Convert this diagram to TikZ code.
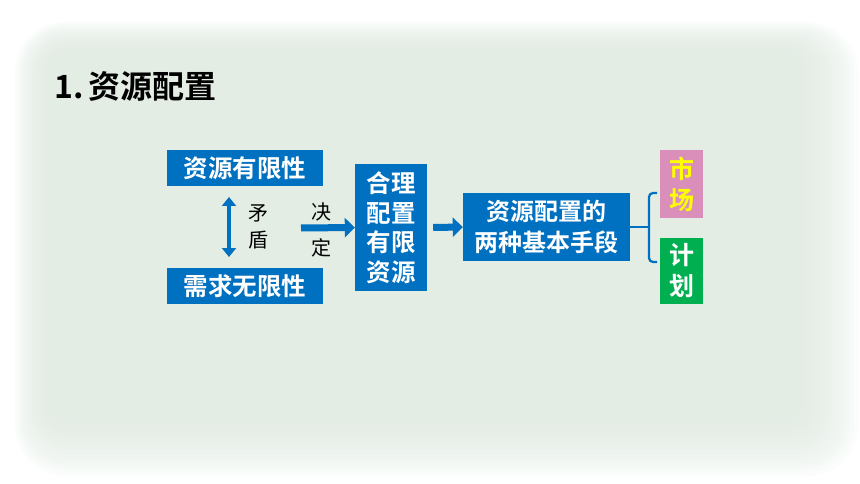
\documentclass[tikz,border=0pt]{standalone}
\usepackage{fontspec}
\newfontfamily\cjk{Noto Sans CJK SC}
\newfontfamily\cjkb{Noto Sans CJK SC Bold}
\usetikzlibrary{arrows.meta}
\definecolor{bgg}{HTML}{E3EDE4}
\definecolor{boxblue}{HTML}{0070C0}
\definecolor{mpink}{HTML}{D98FB9}
\definecolor{mgreen}{HTML}{00B050}
\definecolor{myellow}{HTML}{FFFF00}
\tikzset{
  bluebox/.style={fill=boxblue, text=white, font=\cjkb\fontsize{24.5}{27}\selectfont, inner sep=0pt, align=center},
  sidebox/.style={inner sep=0pt, align=center, font=\cjkb\fontsize{25}{31}\selectfont},
  smalltxt/.style={font=\cjk\fontsize{20}{22}\selectfont, text=black, inner sep=0pt},
  fatarrow/.style={draw=boxblue, line width=7pt, -{Triangle[length=10pt,width=19pt]}},
  dblarrow/.style={draw=boxblue, line width=4.5pt, {Triangle[length=9pt,width=14pt]}-{Triangle[length=9pt,width=14pt]}},
  bracel/.style={draw=boxblue, line width=2.2pt}
}
\begin{document}
\begin{tikzpicture}[x=1pt,y=-1pt]
\useasboundingbox (0,0) rectangle (860,484);
\fill[white] (0,0) rectangle (860,484);
% soft background
\foreach \i in {0,...,19}{
  \fill[bgg, opacity=0.11, rounded corners={50-2*\i}] (15+2.2*\i,22+1.9*\i) rectangle (858-3.8*\i,476-3.8*\i);
}
\node[anchor=west, font=\cjkb\fontsize{32}{36}\selectfont, text=black, inner sep=0pt] (title) at (54,87) {1.\,资源配置};

\node[bluebox, minimum width=156pt, minimum height=36pt] (a) at (245,168) {资源有限性};
\node[bluebox, minimum width=156pt, minimum height=36pt] (b) at (245,286) {需求无限性};
\coordinate (da) at (229,197);
\coordinate (db) at (229,257);
\draw[dblarrow] (da) -- (db);
\node[smalltxt] (m1) at (258,213) {矛};
\node[smalltxt] (m2) at (258,240) {盾};

\node[bluebox, minimum width=72pt, minimum height=127pt, font=\cjkb\fontsize{24.5}{29.5}\selectfont] (c) at (391,227.5) {合理\\配置\\有限\\资源};
\coordinate (ja) at (301,228);
\draw[fatarrow] (ja) -- (c.west);
\node[smalltxt] (j1) at (321,212) {决};
\node[smalltxt] (j2) at (321,248) {定};

\node[bluebox, minimum width=167pt, minimum height=68pt, font=\cjkb\fontsize{24}{31}\selectfont] (d) at (546.5,227) {资源配置的\\两种基本手段};
\draw[fatarrow] (c.east) ++(6,0) coordinate (ka) (ka) -- (d.west);

\node[sidebox, fill=mpink, text=myellow, minimum width=43pt, minimum height=68pt] (e) at (681.5,184) {市\\场};
\node[sidebox, fill=mgreen, text=white, minimum width=43pt, minimum height=66pt] (f) at (681.5,271) {计\\划};

\coordinate (bm) at (649,227);
\draw[bracel] (d.east) -- (bm);
\draw[bracel, rounded corners=4pt] (657,193) -- (649,193) -- (649,262) -- (657,262);
\end{tikzpicture}
\end{document}
